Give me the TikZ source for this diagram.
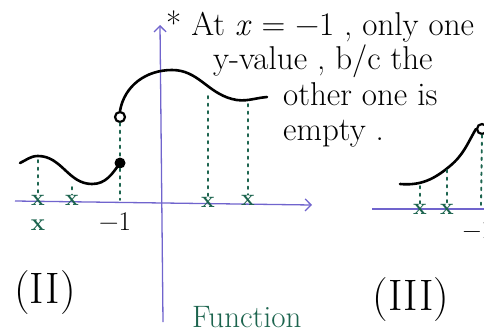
\documentclass[tikz,border=0pt]{standalone}
\usepackage{tikz}
\usetikzlibrary{arrows.meta, positioning, calc}
\definecolor{axisblue}{RGB}{112,100,205}
\definecolor{markgreen}{RGB}{28,100,78}

\begin{document}
\begin{tikzpicture}[x=1pt, y=-1pt,
    axis/.style={draw=axisblue, line width=1.3pt},
    arrow/.style={-{Straight Barb[length=6pt, width=12pt]}},
    curve/.style={line width=2.6pt, line cap=round},
    guide/.style={draw=markgreen, line width=1.9pt, line cap=round, dash pattern=on 2.5pt off 5pt},
    cross/.style={text=markgreen, font=\fontsize{23}{23}\selectfont\bfseries, inner sep=0pt},
    opendot/.style={circle, draw, line width=2.2pt, fill=white, minimum size=10pt, inner sep=0pt},
    filldot/.style={circle, fill, minimum size=11pt, inner sep=0pt},
    note/.style={anchor=base west, inner sep=0pt, font=\fontsize{33}{33}\selectfont},
    tag/.style={inner sep=0pt, font=\fontsize{44}{44}\selectfont}
]
\clip (0,0) rectangle (484,335);

% Axes of (II)
\coordinate (xl) at (15,201);
\coordinate (xr) at (312,205);
\coordinate (yb) at (163,322);
\coordinate (yt) at (160,25);
\draw[axis, arrow] (xl) -- (xr);
\draw[axis, arrow] (yb) -- (yt);

% End points at x = -1
\node[filldot] (closed) at (120,163) {};
\node[opendot] (open) at (120,117) {};

% Graph of (II)
\draw[curve] (20,163) to[out=25, in=180] (38,156) to[out=0, in=180] (92,184)
    to[out=0, in=235] (closed.center);
\draw[curve] (open.north) to[out=80, in=180] (172,70) to[out=0, in=165] (232,99)
    to[out=-15, in=185] (267,97);

% Points on the x-axis
\node[cross] (c1) at (38,200) {x};
\node[cross] (c2) at (72,200) {x};
\node[cross] (c3) at (208,202) {x};
\node[cross] (c4) at (248,200) {x};
\coordinate (p1) at (38,160);
\coordinate (p2) at (72,187);
\coordinate (p3) at (208,96);
\coordinate (p4) at (248,104);
\coordinate (pm) at (120,200);
\draw[guide] (p1) -- (c1);
\draw[guide] (p2) -- (c2);
\draw[guide] (p3) -- (c3);
\draw[guide] (p4) -- (c4);
\draw[guide] (open.south) -- (closed.north);
\draw[guide] (closed.south) -- (pm);

% Labels of (II)
\node[text=markgreen, font=\fontsize{24}{24}\selectfont\bfseries] (lx) at (38,225) {x};
\node[font=\fontsize{27}{27}\selectfont] (lm) at (115,222) {−1};
\node[tag] (t2) at (45,293) {(II)};
\node[text=markgreen, font=\fontsize{31}{31}\selectfont, anchor=base west, inner sep=0pt] (fn) at (192,327) {Function};

% Note
\node[note] (note1) at (166,35) {* At \textit{x} = −1 , only one};
\node[note] (note2) at (213,69) {y-value , b/c the};
\node[note] (note3) at (283,105) {other one is};
\node[note] (note4) at (283,140) {empty .};

% Axes of (III)
\coordinate (xl3) at (372,209);
\coordinate (xr3) at (490,209);
\draw[axis] (xl3) -- (xr3);

% Graph of (III)
\node[opendot] (open3) at (482,129) {};
\draw[curve] (400,184) to[out=-5, in=220] (450,166) to[out=40, in=240] (open3.west);
\node[cross] (d1) at (420,209) {x};
\node[cross] (d2) at (447,209) {x};
\coordinate (q1) at (420,186);
\coordinate (q2) at (447,170);
\coordinate (q3) at (481,205);
\draw[guide] (q1) -- (d1);
\draw[guide] (q2) -- (d2);
\draw[guide] (open3.south) -- (q3);
\node[font=\fontsize{26}{26}\selectfont] (lm3) at (478,230) {−1};
\node[tag] (t3) at (411,300) {(III)};
\end{tikzpicture}
\end{document}
